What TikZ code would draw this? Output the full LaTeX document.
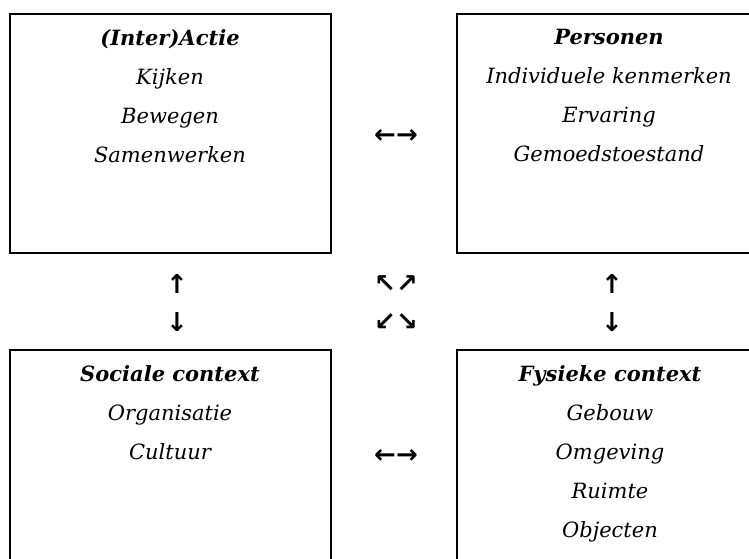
\documentclass[tikz,border=0pt]{standalone}
\usepackage{fontspec}
\setmainfont{DejaVu Serif}
\newfontfamily\arrowfont{DejaVu Sans}
\tikzset{
  box/.style={draw=black, line width=1.8pt, rectangle, inner sep=0pt},
  boxtext/.style={anchor=north, align=center, inner sep=0pt,
    font=\fontsize{21}{39}\selectfont\itshape},
  arr/.style={inner sep=0pt, font=\arrowfont\bfseries\fontsize{26}{30}\selectfont}
}
\newcommand{\hd}[1]{\textbf{#1}}
\begin{document}
\begin{tikzpicture}[x=1pt,y=-1pt]
\useasboundingbox (0,0) rectangle (749,558);
\clip (0,0) rectangle (749,558);
% boxes
\node[box, minimum width=321pt, minimum height=239pt] (act) at (170.5,133.5) {};
\node[box, minimum width=340pt, minimum height=239pt] (per) at (627,133.5) {};
\node[box, minimum width=321pt, minimum height=260pt] (soc) at (170.5,480) {};
\node[box, minimum width=340pt, minimum height=260pt] (fys) at (627,480) {};
% texts
\node[boxtext] (actT) at (170,29) {\hd{(Inter)Actie}\\Kijken\\Bewegen\\Samenwerken};
\node[boxtext] (perT) at (609,29) {\hd{Personen}\\Individuele kenmerken\\Ervaring\\Gemoedstoestand};
\node[boxtext] (socT) at (170,365) {\hd{Sociale context}\\Organisatie\\Cultuur};
\node[boxtext] (fysT) at (610,365) {\hd{Fysieke context}\\Gebouw\\Omgeving\\Ruimte\\Objecten};
% arrow glyphs
\node[arr] (h1) at (396,136) {←→};
\node[arr] (h2) at (396,456) {←→};
\node[arr] (v1u) at (177,284) {↑};
\node[arr] (v1d) at (177,322) {↓};
\node[arr] (v2u) at (612,284) {↑};
\node[arr] (v2d) at (612,322) {↓};
\node[arr] (d1) at (396,284) {↖↗};
\node[arr] (d2) at (396,322) {↙↘};
\end{tikzpicture}
\end{document}
